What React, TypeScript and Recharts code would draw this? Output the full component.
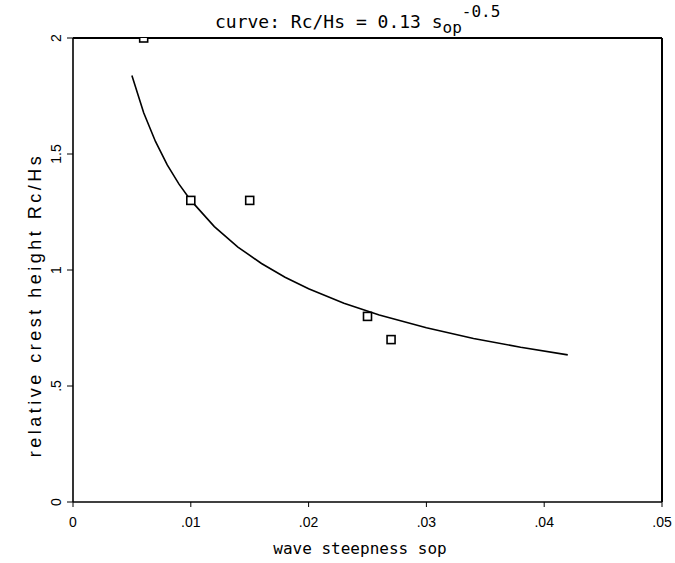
import React from "react";
import {
  ScatterChart,
  Scatter,
  XAxis,
  YAxis,
  ReferenceLine,
  Customized,
} from "recharts";

// measured points (wave steepness sop, relative crest height Rc/Hs)
const pointSop = [0.006, 0.01, 0.015, 0.025, 0.027];
const pointRcHs = [2.0, 1.3, 1.3, 0.8, 0.7];

// fitted curve
const curveSop = [0.005, 0.006, 0.007, 0.008, 0.009, 0.01, 0.012, 0.014, 0.016, 0.018, 0.02, 0.023, 0.026, 0.03, 0.034, 0.038, 0.042];
const curveRcHs = [1.838, 1.678, 1.554, 1.453, 1.37, 1.3, 1.187, 1.099, 1.028, 0.969, 0.919, 0.857, 0.806, 0.751, 0.705, 0.667, 0.634];

const xTicks = [0, 0.01, 0.02, 0.03, 0.04, 0.05];
const yTicks = [0, 0.5, 1, 1.5, 2];

const points = pointSop.map((x, i) => ({ x, y: pointRcHs[i] }));
const curve = curveSop.map((x, i) => ({ x, y: curveRcHs[i] }));

const MONO = "'DejaVu Sans Mono', monospace";
const SANS = "'Liberation Sans', Arial, sans-serif";

const fmt = (v: number) => {
  if (v === 0) return "0";
  const s = String(v);
  return s.startsWith("0.") ? s.slice(1) : s;
};

const Square = (props: any) => {
  const { cx, cy } = props;
  if (cx == null || cy == null) return <g />;
  return (
    <rect x={cx - 4} y={cy - 4} width={8} height={8} fill="#fff" stroke="#000" strokeWidth={1.6} />
  );
};

const NoDot = () => <g />;

const YTick = (props: any) => {
  const { x, y, payload } = props;
  return (
    <text
      transform={`translate(${x},${y}) rotate(-90)`}
      textAnchor="middle"
      fontSize={14}
      fontFamily={SANS}
      fill="#000"
    >
      {fmt(payload.value)}
    </text>
  );
};

const Texts = () => (
  <g fill="#000">
    <text x={215} y={28} fontSize={18} fontFamily={MONO}>
      curve: Rc/Hs = 0.13 s
      <tspan dy={5} fontSize={16}>op</tspan>
      <tspan dy={-16} fontSize={16}>-0.5</tspan>
    </text>
    <text x={360} y={554} fontSize={16} fontFamily={MONO} textAnchor="middle">
      wave steepness sop
    </text>
    <text
      x={0}
      y={0}
      fontSize={18}
      fontFamily={SANS}
      letterSpacing={3.5}
      textAnchor="middle"
      transform="translate(41,305) rotate(-90)"
    >
      relative crest height Rc/Hs
    </text>
  </g>
);

export default function App() {
  return (
    <div style={{ position: "absolute", left: 0, top: 0, width: 675, height: 563, background: "#fff" }}>
      <ScatterChart
        width={675}
        height={563}
        margin={{ top: 38, right: 13, bottom: 31, left: 43 }}
      >
        <XAxis
          type="number"
          dataKey="x"
          domain={[0, 0.05]}
          ticks={xTicks}
          tickFormatter={fmt}
          height={30}
          tickSize={5}
          tickMargin={10}
          axisLine={{ stroke: "#000", strokeWidth: 1.6 }}
          tickLine={{ stroke: "#000" }}
          tick={{ fill: "#000", fontSize: 14, fontFamily: SANS }}
          allowDataOverflow
        />
        <YAxis
          type="number"
          dataKey="y"
          domain={[0, 2]}
          ticks={yTicks}
          tick={YTick}
          width={30}
          tickSize={6}
          tickMargin={6}
          axisLine={{ stroke: "#000", strokeWidth: 1.6 }}
          tickLine={{ stroke: "#000" }}
          allowDataOverflow
        />
        <ReferenceLine y={2} stroke="#000" strokeWidth={2} />
        <ReferenceLine x={0.05} stroke="#000" strokeWidth={2} />
        <Scatter
          data={curve}
          line={{ stroke: "#000", strokeWidth: 1.6 }}
          lineType="joint"
          shape={NoDot}
          isAnimationActive={false}
        />
        <Scatter data={points} shape={Square} isAnimationActive={false} />
        <Customized component={Texts} />
      </ScatterChart>
    </div>
  );
}
